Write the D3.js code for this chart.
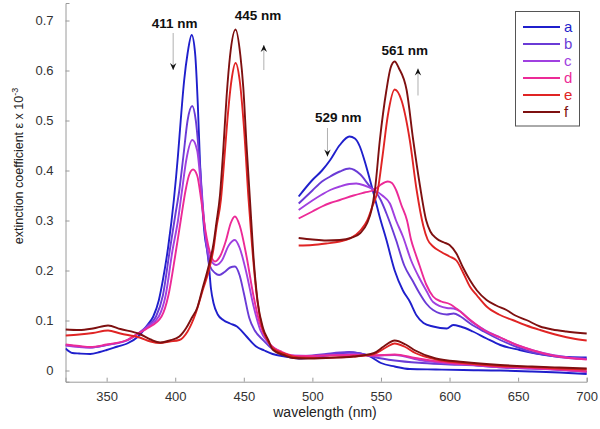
<!DOCTYPE html>
<html><head><meta charset="utf-8">
<script src="https://cdn.jsdelivr.net/npm/d3@7"></script>
<style>body{margin:0;background:#fff}svg{display:block;font-family:Arial,"Liberation Sans",sans-serif}</style>
</head><body>
<svg id="c" width="600" height="429"></svg>
<script>
// ---- data (wavelength nm, extinction coefficient) ----
const seriesNames = ["a","b","c","d","e","f"];
const seriesColors = ["#1f1fcc","#6a3bd6","#a040e0","#ec2a97","#e02424","#7e1010"];
const xTicks = [350,400,450,500,550,600,650,700];
const yTicks = [0,0.1,0.2,0.3,0.4,0.5,0.6,0.7];

const aMain = [[320,0.044],[325,0.035],[330,0.034],[338,0.033],[345,0.037],[350,0.041],[358,0.048],[365,0.054],[373,0.068],[380,0.092],[384,0.108],[388,0.14],[391,0.181],[395,0.25],[399,0.341],[402,0.43],[404,0.5],[406.5,0.58],[409,0.634],[412,0.671],[414.5,0.634],[416.5,0.53],[418,0.42],[419.5,0.34],[421.5,0.27],[424,0.228],[426,0.165],[428,0.134],[431,0.112],[435,0.101],[440,0.094],[445,0.088],[452,0.068],[459,0.048],[465,0.04],[471,0.033],[480,0.028],[490,0.024],[500,0.026],[510,0.03],[520,0.034],[527,0.036],[535,0.034],[542,0.028],[550,0.015],[560,0.008],[571,0.003],[590,0.002],[610,0.001],[637,0.0],[660,-0.002],[680,-0.004],[700,-0.007]];
const bMain = [[320,0.051],[330,0.048],[338,0.046],[350,0.051],[365,0.061],[373,0.074],[380,0.09],[386,0.108],[391,0.15],[396,0.24],[400,0.31],[403,0.361],[406,0.43],[409,0.5],[412.4,0.529],[415,0.5],[418,0.41],[421,0.3],[425,0.211],[429,0.195],[432,0.191],[436,0.197],[440,0.206],[443.5,0.208],[447,0.19],[450,0.155],[454,0.105],[458,0.08],[464,0.061],[470,0.045],[480,0.032],[490,0.028],[500,0.03],[510,0.033],[520,0.036],[527,0.037],[535,0.034],[545,0.027],[560,0.02],[580,0.015],[600,0.012],[620,0.01],[640,0.006],[660,0.004],[680,0.002],[700,-0.003]];
const cMain = [[320,0.05],[330,0.047],[338,0.046],[350,0.051],[365,0.06],[373,0.074],[380,0.088],[388,0.108],[393,0.15],[398,0.24],[402,0.3],[405,0.361],[408,0.42],[412.5,0.461],[416,0.44],[419,0.36],[422,0.27],[426,0.22],[430,0.211],[434,0.22],[439,0.25],[443.5,0.261],[447,0.245],[452,0.194],[457,0.13],[462,0.081],[468,0.055],[475,0.04],[485,0.03],[500,0.029],[520,0.032],[530,0.033],[545,0.03],[560,0.031],[580,0.02],[600,0.014],[620,0.01],[640,0.006],[660,0.004],[680,0.001],[700,-0.002]];
const dMain = [[320,0.052],[330,0.049],[338,0.047],[350,0.052],[365,0.061],[373,0.074],[380,0.085],[390,0.108],[395,0.15],[400,0.23],[404,0.3],[407.6,0.361],[410,0.39],[413,0.402],[416,0.39],[419,0.34],[422,0.28],[426,0.23],[429,0.218],[433,0.23],[437,0.26],[440.5,0.295],[443.5,0.308],[447,0.29],[452,0.228],[457,0.15],[461.7,0.094],[466,0.066],[470,0.05],[478,0.037],[490,0.029],[510,0.03],[530,0.031],[545,0.03],[560,0.032],[575,0.025],[600,0.015],[620,0.011],[640,0.007],[660,0.005],[680,0.002],[700,-0.002]];
const eMain = [[320,0.07],[330,0.072],[340,0.075],[351,0.08],[360,0.074],[374,0.066],[382,0.058],[389,0.055],[396,0.058],[403,0.061],[409,0.078],[415,0.115],[420,0.16],[425,0.205],[428,0.245],[430,0.285],[433.3,0.341],[436,0.43],[438,0.5],[441,0.58],[444,0.615],[447,0.58],[450,0.49],[453.5,0.341],[456,0.25],[459,0.16],[463,0.09],[467,0.062],[471,0.045],[480,0.033],[490,0.026],[500,0.025],[515,0.026],[530,0.028],[545,0.033],[553,0.045],[560,0.054],[567,0.048],[575,0.035],[590,0.022],[610,0.015],[637,0.009],[660,0.007],[680,0.004],[700,0.002]];
const fMain = [[320,0.082],[330,0.081],[340,0.084],[351,0.09],[360,0.083],[374,0.073],[382,0.062],[389,0.056],[396,0.06],[403,0.068],[408,0.085],[412,0.105],[416,0.125],[420,0.165],[424,0.205],[428,0.255],[430,0.295],[432.6,0.35],[435,0.44],[437.5,0.55],[440,0.63],[444,0.682],[447.5,0.63],[449.6,0.567],[452,0.45],[454.5,0.341],[457,0.23],[460,0.14],[464,0.085],[468,0.06],[471,0.042],[480,0.03],[486,0.025],[495,0.024],[510,0.025],[530,0.028],[545,0.035],[552,0.048],[560,0.06],[568,0.052],[575,0.04],[590,0.024],[610,0.017],[637,0.011],[660,0.008],[680,0.006],[700,0.004]];

// magnified 490-700 nm traces
const aMag = [[490,0.348],[500,0.381],[507,0.4],[513,0.421],[520,0.451],[527,0.468],[531,0.464],[534.6,0.448],[538,0.42],[542,0.381],[546,0.34],[549,0.308],[554,0.261],[560,0.2],[566,0.16],[571,0.138],[576,0.11],[581,0.095],[588,0.088],[598,0.084],[602.6,0.091],[608,0.088],[617,0.078],[627,0.064],[637,0.051],[651,0.041],[663,0.034],[675,0.029],[687,0.027],[700,0.026]];
const bMag = [[490,0.334],[500,0.36],[507,0.378],[513,0.388],[520,0.398],[527,0.404],[535,0.392],[542,0.368],[546,0.358],[550,0.34],[554,0.314],[561,0.261],[567,0.21],[573,0.18],[578,0.155],[583,0.134],[588,0.121],[598,0.112],[603,0.114],[608,0.108],[615,0.094],[625,0.078],[637,0.061],[650,0.046],[661,0.036],[675,0.029],[687,0.025],[700,0.023]];
const cMag = [[490,0.321],[500,0.34],[507,0.352],[513,0.361],[520,0.368],[527,0.373],[532,0.374],[538,0.37],[545,0.361],[551,0.35],[556.5,0.334],[561,0.3],[566,0.268],[572,0.22],[578,0.185],[583,0.16],[588,0.137],[598,0.125],[603,0.124],[608,0.118],[615,0.1],[625,0.082],[637,0.066],[650,0.05],[661,0.04],[675,0.031],[687,0.026],[700,0.023]];
const dMag = [[490,0.304],[500,0.318],[507,0.328],[513,0.335],[520,0.341],[530,0.35],[538,0.356],[545,0.361],[550,0.372],[555,0.378],[558,0.375],[561,0.361],[565,0.33],[569,0.3],[572,0.261],[575,0.235],[578,0.211],[583,0.172],[588,0.148],[594,0.138],[600,0.133],[606,0.122],[612,0.108],[618,0.095],[625,0.081],[637,0.066],[650,0.05],[661,0.04],[675,0.03],[687,0.025],[700,0.022]];
const eMag = [[490,0.25],[500,0.251],[510,0.254],[520,0.258],[528,0.265],[535,0.28],[540,0.3],[544,0.33],[547.7,0.361],[551.2,0.43],[555,0.51],[560,0.562],[565,0.54],[571,0.461],[576,0.361],[580.8,0.29],[584,0.262],[588,0.248],[594,0.237],[600,0.228],[605,0.22],[610,0.195],[614.8,0.168],[620,0.15],[627,0.128],[636,0.112],[646,0.101],[656,0.09],[666,0.081],[680,0.07],[690,0.064],[700,0.06]];
const fMag = [[490,0.265],[500,0.262],[510,0.26],[520,0.261],[528,0.265],[535,0.275],[540,0.295],[543,0.32],[545.6,0.361],[549.2,0.461],[554,0.561],[557,0.605],[560,0.618],[563,0.605],[568.7,0.561],[573.5,0.461],[578.4,0.37],[583,0.3],[586,0.278],[590.5,0.264],[596,0.256],[600,0.251],[605,0.234],[610,0.205],[614.8,0.181],[620,0.16],[627,0.141],[634,0.13],[641.5,0.121],[648,0.11],[656,0.101],[666,0.088],[675,0.082],[685,0.078],[700,0.074]];

const mainSeries = [aMain,bMain,cMain,dMain,eMain,fMain];
const magSeries = [aMag,bMag,cMag,dMag,eMag,fMag];

const peakLabels = [{t:"411 nm",x:399.6,y:0.686},{t:"445 nm",x:460.3,y:0.701},{t:"529 nm",x:518.8,y:0.497},{t:"561 nm",x:567.4,y:0.631}];
const arrows = [{x:398.5,y0:0.675,y1:0.601,dir:"down"},{x:464.6,y0:0.601,y1:0.651,dir:"up"},{x:511,y0:0.485,y1:0.428,dir:"down"},{x:577,y0:0.55,y1:0.604,dir:"up"}];

// ---- layout ----
const svg = d3.select("#c");
const x = d3.scaleLinear().domain([320,700]).range([65.5,586.7]);
const y = d3.scaleLinear().domain([-0.0224,0.735]).range([381.7,3]);
const axisColor = "#9a9a9a";

svg.append("defs").append("clipPath").attr("id","clip").append("rect")
  .attr("x",x(320)).attr("y",0).attr("width",x(700)-x(320)+2).attr("height",y(-0.0224));

// axes
const xAxis = svg.append("g").attr("transform",`translate(0,${y(-0.0224)})`)
  .call(d3.axisBottom(x).tickValues(xTicks).tickSize(-4).tickPadding(10).tickFormat(d3.format("d")));
const yAxis = svg.append("g").attr("transform",`translate(${x(320)},0)`)
  .call(d3.axisLeft(y).tickValues(yTicks).tickSize(-4).tickPadding(12).tickFormat(d=>d===0?"0":d3.format(".1f")(d)));
[xAxis,yAxis].forEach(g=>{
  g.select(".domain").attr("stroke",axisColor).attr("stroke-width",1);
  g.selectAll(".tick line").attr("stroke",axisColor);
  g.selectAll(".tick text").attr("fill","#333").style("font-size","13px").style("font-family","Arial, 'Liberation Sans', sans-serif");
});

// axis titles
svg.append("text").attr("x",325).attr("y",417).attr("text-anchor","middle")
  .style("font-size","14px").attr("fill","#222").text("wavelength (nm)");
const yl = svg.append("text").attr("transform","translate(23,166) rotate(-90)").attr("text-anchor","middle")
  .style("font-size","12.5px").attr("fill","#222");
yl.append("tspan").text("extinction coefficient ε x 10");
yl.append("tspan").attr("dy",-5).style("font-size","9px").text("-3");

// lines
const line = d3.line().x(d=>x(d[0])).y(d=>y(d[1])).curve(d3.curveMonotoneX);
const plot = svg.append("g").attr("clip-path","url(#clip)");
mainSeries.forEach((s,i)=>plot.append("path").attr("d",line(s)).attr("fill","none")
  .attr("stroke",seriesColors[i]).attr("stroke-width",1.9).attr("stroke-linejoin","round"));
magSeries.forEach((s,i)=>plot.append("path").attr("d",line(s)).attr("fill","none")
  .attr("stroke",seriesColors[i]).attr("stroke-width",1.9).attr("stroke-linejoin","round"));

// peak labels
peakLabels.forEach(p=>svg.append("text").attr("x",x(p.x)).attr("y",y(p.y)).attr("text-anchor","middle")
  .style("font-size","13.5px").style("font-weight","bold").attr("fill","#111").text(p.t));

// arrows
arrows.forEach(a=>{
  const xx = x(a.x), ys = y(a.y0), ye = y(a.y1);
  svg.append("line").attr("x1",xx).attr("x2",xx).attr("y1",ys).attr("y2",ye).attr("stroke","#b0b0b0").attr("stroke-width",1);
  const s = a.dir==="down"?1:-1;
  svg.append("path").attr("d",`M${xx-3.2},${ye-7*s} L${xx},${ye} L${xx+3.2},${ye-7*s} L${xx},${ye-4.5*s} Z`).attr("fill","#111");
});

// legend
const lg = svg.append("g");
lg.append("rect").attr("x",515.5).attr("y",11.5).attr("width",64).attr("height",114.5)
  .attr("fill","#fff").attr("stroke","#555").attr("stroke-width",1);
seriesNames.forEach((n,i)=>{
  const yy = 27 + i*17;
  lg.append("line").attr("x1",523).attr("x2",560).attr("y1",yy).attr("y2",yy).attr("stroke",seriesColors[i]).attr("stroke-width",1.8);
  lg.append("text").attr("x",564).attr("y",yy+5).style("font-size","15px").attr("fill",seriesColors[i]).text(n);
});
</script>
</body></html>
